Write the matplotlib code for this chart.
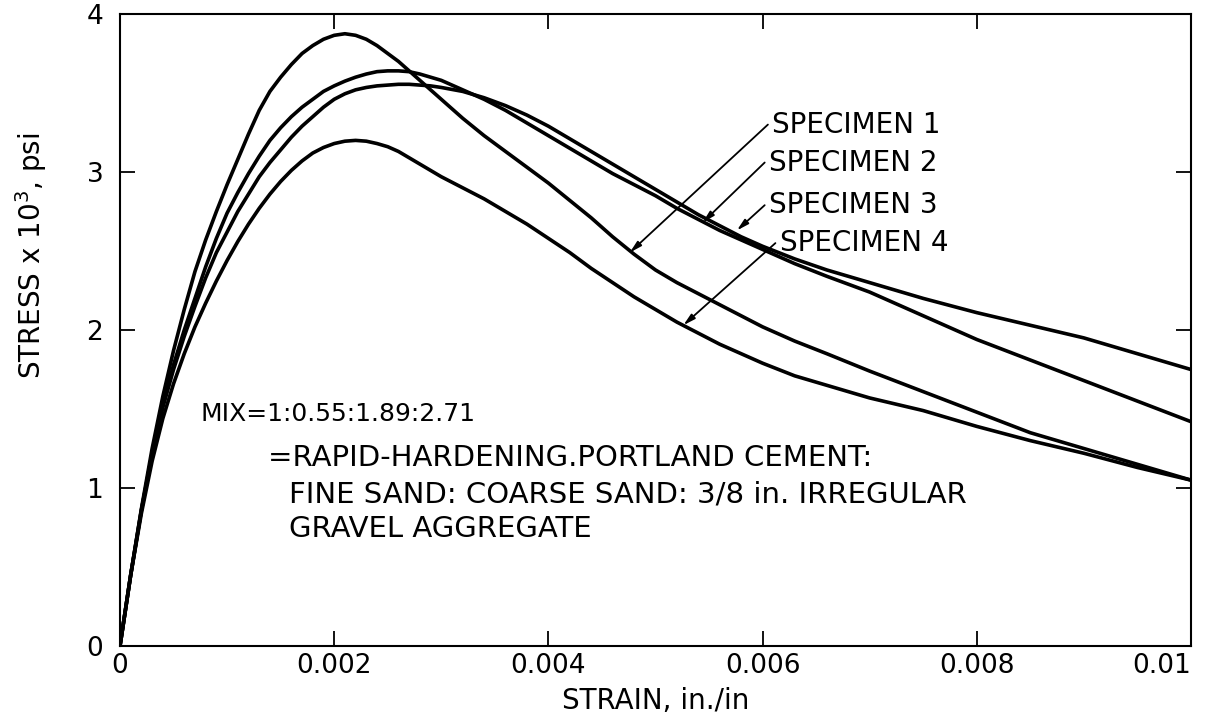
import numpy as np
import matplotlib.pyplot as plt

strain = [0, 0.0001, 0.0002, 0.0003, 0.0004, 0.0005, 0.0006, 0.0007, 0.0008, 0.0009,
          0.001, 0.0011, 0.0012, 0.0013, 0.0014, 0.0015, 0.0016, 0.0017, 0.0018, 0.0019,
          0.002, 0.0021, 0.0022, 0.0023, 0.0024, 0.0025, 0.0026, 0.0027, 0.0028, 0.0029,
          0.003, 0.0032, 0.0034, 0.0036, 0.0038, 0.004, 0.0042, 0.0044, 0.0046, 0.0048,
          0.005, 0.0052, 0.0054, 0.0056, 0.0058, 0.006, 0.0063, 0.0066, 0.007, 0.0075,
          0.008, 0.0085, 0.009, 0.0095, 0.01]

# stress x 10^3 psi
spec1 = [0, 0.45, 0.87, 1.25, 1.58, 1.87, 2.13, 2.37, 2.57, 2.75,
         2.92, 3.08, 3.24, 3.39, 3.51, 3.60, 3.68, 3.75, 3.80, 3.84,
         3.865, 3.875, 3.865, 3.84, 3.80, 3.75, 3.70, 3.64, 3.58, 3.52,
         3.46, 3.34, 3.23, 3.13, 3.03, 2.93, 2.82, 2.71, 2.59, 2.48,
         2.38, 2.30, 2.23, 2.16, 2.09, 2.02, 1.93, 1.85, 1.74, 1.61,
         1.48, 1.35, 1.25, 1.15, 1.05]
spec2 = [0, 0.45, 0.86, 1.22, 1.53, 1.78, 2.00, 2.20, 2.40, 2.58,
         2.74, 2.87, 2.99, 3.10, 3.20, 3.28, 3.35, 3.41, 3.46, 3.51,
         3.545, 3.575, 3.60, 3.62, 3.635, 3.64, 3.64, 3.635, 3.62, 3.60,
         3.58, 3.52, 3.46, 3.39, 3.31, 3.23, 3.15, 3.07, 2.99, 2.92,
         2.85, 2.77, 2.70, 2.63, 2.57, 2.51, 2.42, 2.34, 2.24, 2.09,
         1.94, 1.81, 1.68, 1.55, 1.42]
spec3 = [0, 0.45, 0.86, 1.21, 1.51, 1.75, 1.96, 2.15, 2.33, 2.49,
         2.62, 2.75, 2.86, 2.97, 3.06, 3.14, 3.22, 3.29, 3.35, 3.41,
         3.46, 3.495, 3.52, 3.535, 3.545, 3.55, 3.555, 3.555, 3.55, 3.545,
         3.535, 3.51, 3.47, 3.42, 3.36, 3.29, 3.21, 3.13, 3.05, 2.97,
         2.89, 2.81, 2.73, 2.66, 2.59, 2.53, 2.45, 2.38, 2.30, 2.20,
         2.11, 2.03, 1.95, 1.85, 1.75]
spec4 = [0, 0.45, 0.84, 1.17, 1.44, 1.66, 1.85, 2.02, 2.17, 2.31,
         2.44, 2.56, 2.67, 2.77, 2.86, 2.94, 3.01, 3.07, 3.12, 3.155,
         3.18, 3.195, 3.20, 3.195, 3.18, 3.16, 3.13, 3.09, 3.05, 3.01,
         2.97, 2.90, 2.83, 2.75, 2.67, 2.58, 2.49, 2.39, 2.30, 2.21,
         2.13, 2.05, 1.98, 1.91, 1.85, 1.79, 1.71, 1.65, 1.57, 1.49,
         1.39, 1.30, 1.22, 1.13, 1.05]

labels = ["SPECIMEN 1", "SPECIMEN 2", "SPECIMEN 3", "SPECIMEN 4"]
# where each leader arrow touches its curve, and where its label starts
tips = [(0.00476, 2.49), (0.00544, 2.68), (0.00576, 2.63), (0.00526, 2.03)]
label_pos = [(0.00605, 3.30), (0.00602, 3.06), (0.00602, 2.79), (0.00612, 2.55)]

xticks = [0, 0.002, 0.004, 0.006, 0.008, 0.01]
xticklabels = ["0", "0.002", "0.004", "0.006", "0.008", "0.01"]
yticks = [0, 1, 2, 3, 4]

fig = plt.figure(figsize=(12.06, 7.21), dpi=100)
ax = fig.add_axes([0.0995, 0.104, 0.888, 0.8766])

for s in [spec1, spec2, spec3, spec4]:
    ax.plot(strain, s, color="black", lw=2.6, solid_joinstyle="round",
            solid_capstyle="round")

ax.set_xlim(0, 0.01)
ax.set_ylim(0, 4)
ax.set_xticks(xticks)
ax.set_xticklabels(xticklabels)
ax.set_yticks(yticks)
ax.get_xticklabels()[-1].set_ha("right")
ax.tick_params(direction="in", length=11, width=1.3, labelsize=19,
               top=True, right=True)
ax.tick_params(axis="x", pad=5)
ax.tick_params(axis="y", pad=12)
for sp in ax.spines.values():
    sp.set_linewidth(1.5)

ax.set_xlabel("STRAIN, in./in", fontsize=20, labelpad=6)
ax.set_ylabel(r"STRESS x 10$^3$, psi", fontsize=20)
ax.yaxis.set_label_coords(-0.066, 0.617)

for lab, tip, pos in zip(labels, tips, label_pos):
    ax.annotate("", xy=tip, xytext=pos,
                arrowprops=dict(arrowstyle="-|>,head_length=0.7,head_width=0.18",
                                color="black", lw=1.3, shrinkA=0, shrinkB=0))
    ax.text(pos[0] + 0.00004, pos[1], lab, fontsize=20, va="center", ha="left")

ax.text(0.00075, 1.47, "MIX=1:0.55:1.89:2.71", fontsize=18, va="center")
ax.text(0.00138, 1.19, "=RAPID-HARDENING.PORTLAND CEMENT:", fontsize=21, va="center")
ax.text(0.00158, 0.96, "FINE SAND: COARSE SAND: 3/8 in. IRREGULAR", fontsize=21, va="center")
ax.text(0.00158, 0.74, "GRAVEL AGGREGATE", fontsize=21, va="center")

fig.savefig("out.png", dpi=100)
